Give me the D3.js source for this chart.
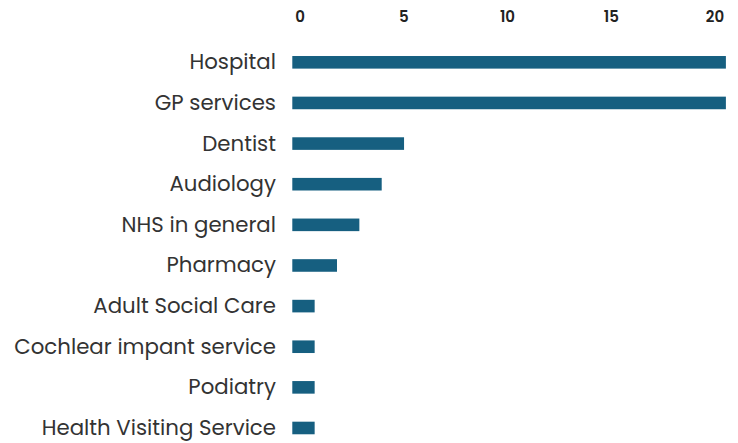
<!DOCTYPE html>
<html lang="en">
<head>
    <meta charset="UTF-8">
    <title>Services</title>
    <style>
        body { margin: 0; background: #fff; }
        svg { display: block; }
    </style>
</head>
<body>
    <div id="chart"></div>
    <script src="https://d3js.org/d3.v7.min.js"></script>
    <script>
        const categories = ["Hospital", "GP services", "Dentist", "Audiology", "NHS in general",
            "Pharmacy", "Adult Social Care", "Cochlear impant service", "Podiatry", "Health Visiting Service"];
        const values = [19.4, 19.4, 5, 4, 3, 2, 1, 1, 1, 1];
        const tickValues = [0, 5, 10, 15, 20];

        const width = 738, height = 443;

        const svg = d3.select("#chart")
            .append("svg")
            .attr("width", width)
            .attr("height", height);

        // bars
        const x = d3.scaleLinear().domain([0, 1]).range([292.3, 314.65]);
        const y = d3.scaleBand()
            .domain(categories)
            .range([42, 448.3])
            .paddingInner(0.69)
            .paddingOuter(0.345);

        // tick labels sit on their own spacing in the original
        const xAxis = d3.scaleLinear().domain([0, 20]).range([300, 715]);

        svg.append("g")
            .selectAll("text")
            .data(tickValues)
            .enter()
            .append("text")
            .attr("x", d => xAxis(d))
            .attr("y", 22)
            .attr("text-anchor", "middle")
            .style("font-family", "Poppins, 'Open Sans', sans-serif")
            .style("font-weight", "600")
            .style("font-size", "15px")
            .style("fill", "#222")
            .text(d => d);

        svg.append("g")
            .selectAll("rect")
            .data(values)
            .enter()
            .append("rect")
            .attr("x", x(0))
            .attr("y", (d, i) => y(categories[i]))
            .attr("width", d => x(d) - x(0))
            .attr("height", y.bandwidth())
            .style("fill", "#165f80");

        svg.append("g")
            .selectAll("text")
            .data(categories)
            .enter()
            .append("text")
            .attr("x", 276)
            .attr("y", d => y(d) + y.bandwidth() / 2)
            .attr("dy", "0.33em")
            .attr("text-anchor", "end")
            .style("font-family", "Poppins, 'Open Sans', sans-serif")
            .style("font-size", "21.3px")
            .style("fill", "#333")
            .text(d => d);
    </script>
</body>
</html>
